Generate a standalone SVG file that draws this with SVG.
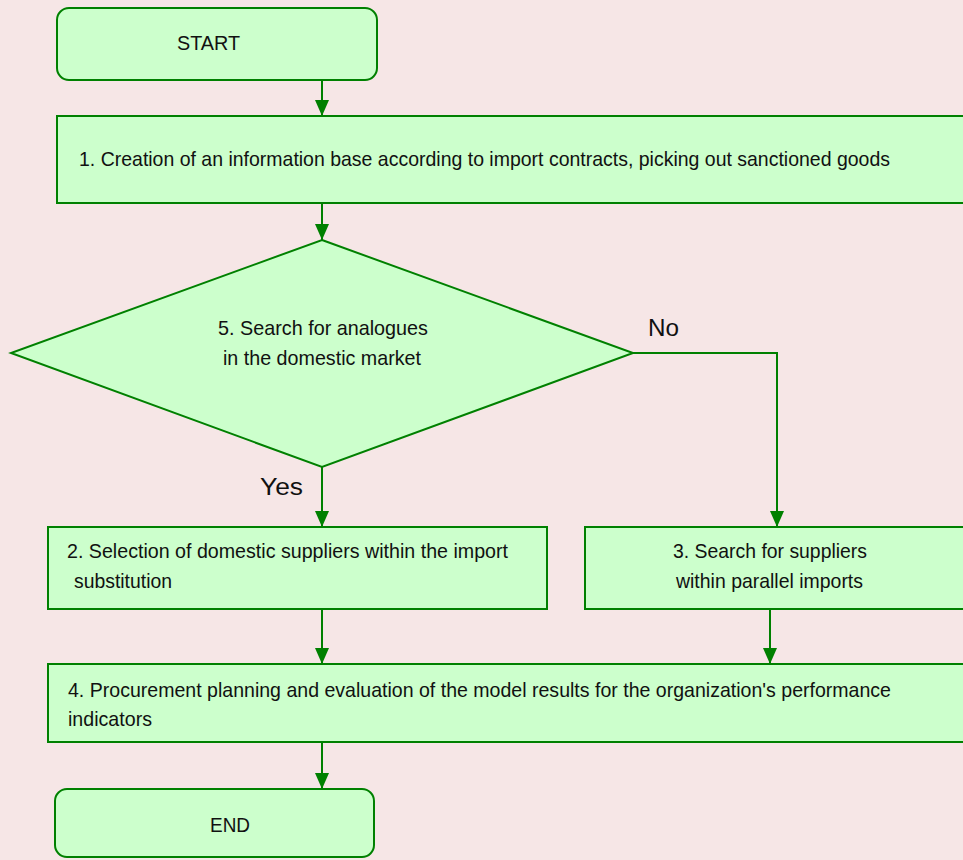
<svg xmlns="http://www.w3.org/2000/svg" width="963" height="860" viewBox="0 0 963 860">
<defs>
<marker id="arr" viewBox="0 0 16 14" refX="16" refY="7" markerWidth="16" markerHeight="14" markerUnits="userSpaceOnUse" orient="auto">
<path d="M0,0 L16,7 L0,14 Z" fill="#008000"/>
</marker>
</defs>
<style>
.node{fill:#CCFFCC;stroke:#008000;stroke-width:2}
.t{font-family:"Liberation Sans",Arial,sans-serif;font-size:21px;fill:#111}
.lbl{font-family:"Liberation Sans",Arial,sans-serif;font-size:23px;fill:#111}
.c{fill:none;stroke:#008000;stroke-width:2}
</style>
<rect width="963" height="860" fill="#F6E6E6"/>
<g id="start">
<rect class="node" x="57" y="8" width="320" height="72" rx="12"/>
<text class="t" x="177" y="50" textLength="63" lengthAdjust="spacingAndGlyphs">START</text>
</g>
<g id="n1">
<rect class="node" x="57" y="116" width="920" height="87"/>
<text class="t" x="79" y="166" textLength="811" lengthAdjust="spacingAndGlyphs">1. Creation of an information base according to import contracts, picking out sanctioned goods</text>
</g>
<g id="n5">
<polygon class="node" points="322,240 633,353 322,467 11,353"/>
<text class="t" x="218" y="335" textLength="210" lengthAdjust="spacingAndGlyphs">5. Search for analogues</text>
<text class="t" x="223" y="365" textLength="198" lengthAdjust="spacingAndGlyphs">in the domestic market</text>
</g>
<g id="n2">
<rect class="node" x="48" y="527" width="499" height="82"/>
<text class="t" x="67" y="558" textLength="441" lengthAdjust="spacingAndGlyphs">2. Selection of domestic suppliers within the import</text>
<text class="t" x="74" y="588" textLength="98" lengthAdjust="spacingAndGlyphs">substitution</text>
</g>
<g id="n3">
<rect class="node" x="585" y="527" width="390" height="82"/>
<text class="t" x="673" y="558" textLength="194" lengthAdjust="spacingAndGlyphs">3. Search for suppliers</text>
<text class="t" x="676" y="588" textLength="187" lengthAdjust="spacingAndGlyphs">within parallel imports</text>
</g>
<g id="n4">
<rect class="node" x="48" y="664" width="927" height="78"/>
<text class="t" x="68" y="697" textLength="823" lengthAdjust="spacingAndGlyphs">4. Procurement planning and evaluation of the model results for the organization's performance</text>
<text class="t" x="68" y="726" textLength="84" lengthAdjust="spacingAndGlyphs">indicators</text>
</g>
<g id="end">
<rect class="node" x="55" y="789" width="319" height="68" rx="12"/>
<text class="t" x="210" y="832" textLength="40" lengthAdjust="spacingAndGlyphs">END</text>
</g>
<g id="connectors">
<line class="c" x1="322" y1="80" x2="322" y2="116" marker-end="url(#arr)"/>
<line class="c" x1="322" y1="203" x2="322" y2="240" marker-end="url(#arr)"/>
<polyline class="c" points="633,353 777,353 777,527" marker-end="url(#arr)"/>
<line class="c" x1="322" y1="467" x2="322" y2="527" marker-end="url(#arr)"/>
<line class="c" x1="322" y1="609" x2="322" y2="664" marker-end="url(#arr)"/>
<line class="c" x1="770" y1="609" x2="770" y2="664" marker-end="url(#arr)"/>
<line class="c" x1="322" y1="742" x2="322" y2="789" marker-end="url(#arr)"/>
<text class="lbl" x="648" y="336" textLength="31" lengthAdjust="spacingAndGlyphs">No</text>
<text class="lbl" x="260" y="495" textLength="43" lengthAdjust="spacingAndGlyphs">Yes</text>
</g>
</svg>
